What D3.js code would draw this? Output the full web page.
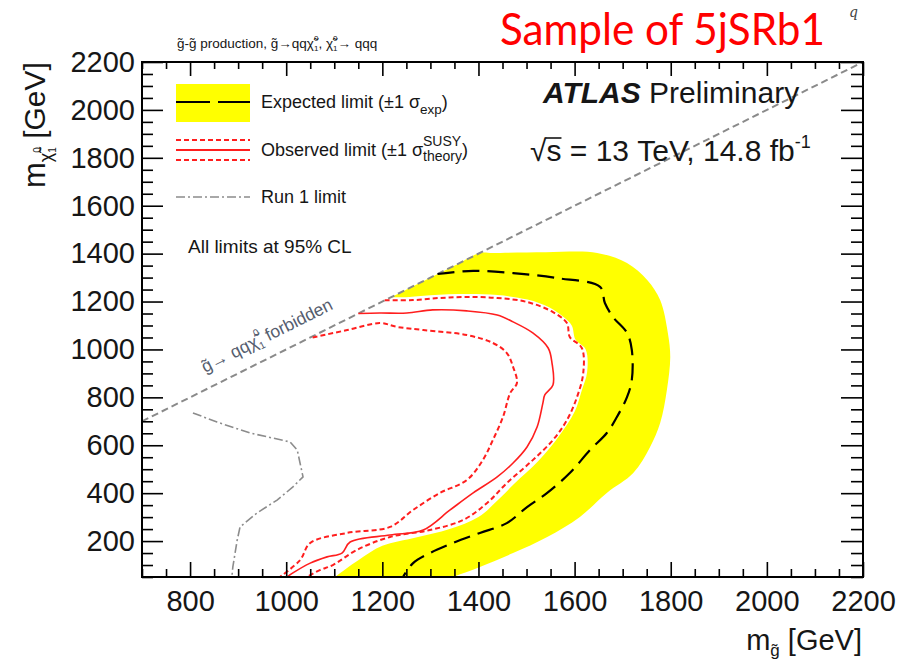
<!DOCTYPE html>
<html>
<head>
<meta charset="utf-8">
<script src="https://cdn.jsdelivr.net/npm/d3@7"></script>
<style>
  html, body { margin: 0; padding: 0; background: #fff; }
  svg { display: block; font-family: "Liberation Sans", Arial, Helvetica, sans-serif; }
</style>
</head>
<body>
<svg id="chart" width="899" height="669"></svg>
<script>
// ---- axis ranges and ticks (GeV) ----
const xDomain = [700, 2200];
const yDomain = [50, 2200];
const xMajorTicks = [800, 1000, 1200, 1400, 1600, 1800, 2000, 2200];
const yMajorTicks = [200, 400, 600, 800, 1000, 1200, 1400, 1600, 1800, 2000, 2200];
const minorStep = 50;

// ---- exclusion contours: [m_gluino, m_neutralino] in GeV ----
const expectedLimit = [
  [1315,1315],[1389,1328],[1472,1319],[1563,1298],[1653,1261],[1663,1194],[1680,1135],
  [1709,1069],[1719,998],[1719,872],[1709,801],[1688,718],[1667,651],[1632,580],
  [1590,484],[1543,401],[1501,342],[1459,275],[1403,234],[1347,192],[1299,150],
  [1264,108],[1243,50]
];
// +/-1 sigma_exp band: outer edge then inner edge
const expectedBandOuter = [
  [1212,1212],[1260,1260],[1310,1310],[1360,1360],[1403,1403],[1430,1403],[1540,1406],
  [1647,1403],[1709,1361],[1751,1290],[1778,1206],[1794,1069],[1799,968],[1792,831],
  [1778,693],[1757,593],[1722,484],[1667,401],[1611,301],[1543,217],[1472,150],
  [1403,92],[1347,50],[1300,10]
];
const expectedBandInner = [
  [1080,10],[1102,50],[1150,120],[1200,180],[1270,215],[1340,250],[1400,300],[1440,370],
  [1475,440],[1525,535],[1568,640],[1600,740],[1615,830],[1626,905],[1623,1000],
  [1602,1040],[1594,1100],[1577,1135],[1547,1176],[1502,1208],[1440,1227],
  [1376,1231],[1300,1226],[1250,1218],[1216,1216]
];
const observedLimit = [
  [1150,1150],[1195,1152],[1251,1152],[1305,1165],[1376,1161],[1439,1144],[1472,1115],
  [1513,1069],[1545,1006],[1553,943],[1555,852],[1538,810],[1534,776],[1522,676],
  [1501,593],[1472,526],[1439,468],[1389,401],[1341,330],[1285,246],[1216,225],
  [1133,196],[1116,150],[1085,134],[1050,108],[1014,67],[1002,50]
];
const observedPlusTheory = [
  [1205,1205],[1264,1206],[1320,1215],[1376,1219],[1439,1215],[1501,1198],[1555,1156],
  [1584,1110],[1590,1052],[1615,1006],[1618,902],[1605,801],[1584,705],[1555,622],
  [1513,538],[1459,442],[1418,359],[1368,288],[1299,246],[1216,217],[1147,163],
  [1097,100],[1070,79],[1043,50]
];
const observedMinusTheory = [
  [1055,1050],[1127,1081],[1195,1110],[1231,1094],[1285,1081],[1376,1060],[1430,1027],
  [1459,985],[1472,927],[1480,860],[1466,818],[1451,718],[1430,622],[1409,538],
  [1376,455],[1320,401],[1264,330],[1216,259],[1127,234],[1050,192],[1029,121],[987,50]
];
const run1Limit = [
  [806,735],[856,697],[925,651],[1008,614],[1023,580],[1035,468],[1014,426],
  [981,371],[939,317],[904,259],[898,204],[889,92],[887,50]
];
// kinematic boundary m_neutralino = m_gluino
const kinematicEdge = [[700,700],[2200,2200]];

// ---- layout ----
const plot = { left: 142, right: 863, top: 62, bottom: 577 };
const txt = "#161616";
const svg = d3.select("#chart");

const x = d3.scaleLinear().domain(xDomain).range([plot.left, plot.right]);
const y = d3.scaleLinear().domain(yDomain).range([plot.bottom, plot.top]);
const line = d3.line().x(d => x(d[0])).y(d => y(d[1]));
const smooth = d3.line().x(d => x(d[0])).y(d => y(d[1])).curve(d3.curveCatmullRom.alpha(0.5));
const bandShape = d3.line().x(d => x(d[0])).y(d => y(d[1])).curve(d3.curveCatmullRomClosed.alpha(0.5));

svg.append("defs").append("clipPath").attr("id", "plotClip")
  .append("rect")
  .attr("x", plot.left).attr("y", plot.top)
  .attr("width", plot.right - plot.left).attr("height", plot.bottom - plot.top);

const area = svg.append("g").attr("clip-path", "url(#plotClip)");

// expected band
area.append("path")
  .attr("d", bandShape(expectedBandOuter.concat(expectedBandInner)))
  .attr("fill", "#ffff00").attr("stroke", "none");

// kinematic boundary
area.append("path").attr("d", line(kinematicEdge))
  .attr("fill", "none").attr("stroke", "#8a8a8a").attr("stroke-width", 2)
  .attr("stroke-dasharray", "7,4");

// run 1
area.append("path").attr("d", line(run1Limit))
  .attr("fill", "none").attr("stroke", "#8c8c8c").attr("stroke-width", 1.6)
  .attr("stroke-dasharray", "9,3,2,3");

// observed +/- theory
[observedPlusTheory, observedMinusTheory].forEach(c => {
  area.append("path").attr("d", smooth(c))
    .attr("fill", "none").attr("stroke", "#ff1e1e").attr("stroke-width", 2)
    .attr("stroke-dasharray", "5,3");
});
area.append("path").attr("d", smooth(observedLimit))
  .attr("fill", "none").attr("stroke", "#ff1e1e").attr("stroke-width", 1.6);

// expected
area.append("path").attr("d", smooth(expectedLimit))
  .attr("fill", "none").attr("stroke", "#000").attr("stroke-width", 2.2)
  .attr("stroke-dasharray", "17,8");

// ---- axes ----
const minorX = d3.range(xDomain[0], xDomain[1] + 1, minorStep).filter(v => !xMajorTicks.includes(v));
const minorY = d3.range(yDomain[0], yDomain[1] + 1, minorStep).filter(v => !yMajorTicks.includes(v));

function styleAxis(g) {
  g.select(".domain").remove();
  g.selectAll(".tick line").attr("stroke", "#000").attr("stroke-width", 1.6);
  g.attr("font-family", null).attr("font-size", null);
  g.selectAll("text").attr("fill", txt).attr("font-size", 29);
}

svg.append("g").attr("transform", `translate(0,${plot.bottom})`)
  .call(d3.axisBottom(x).tickValues(xMajorTicks).tickSize(-15).tickPadding(13).tickFormat(d3.format("d")))
  .call(styleAxis);
svg.append("g").attr("transform", `translate(0,${plot.bottom})`)
  .call(d3.axisBottom(x).tickValues(minorX).tickSize(-8).tickFormat(""))
  .call(styleAxis);
svg.append("g").attr("transform", `translate(0,${plot.top})`)
  .call(d3.axisTop(x).tickValues(xMajorTicks).tickSize(-14).tickFormat(""))
  .call(styleAxis);
svg.append("g").attr("transform", `translate(0,${plot.top})`)
  .call(d3.axisTop(x).tickValues(minorX).tickSize(-7).tickFormat(""))
  .call(styleAxis);

svg.append("g").attr("transform", `translate(${plot.left},0)`)
  .call(d3.axisLeft(y).tickValues(yMajorTicks).tickSize(-21).tickPadding(7).tickFormat(d3.format("d")))
  .call(styleAxis);
svg.append("g").attr("transform", `translate(${plot.left},0)`)
  .call(d3.axisLeft(y).tickValues(minorY).tickSize(-11).tickFormat(""))
  .call(styleAxis);
svg.append("g").attr("transform", `translate(${plot.right},0)`)
  .call(d3.axisRight(y).tickValues(yMajorTicks).tickSize(-22).tickFormat(""))
  .call(styleAxis);
svg.append("g").attr("transform", `translate(${plot.right},0)`)
  .call(d3.axisRight(y).tickValues(minorY).tickSize(-12).tickFormat(""))
  .call(styleAxis);

svg.append("rect")
  .attr("x", plot.left).attr("y", plot.top)
  .attr("width", plot.right - plot.left).attr("height", plot.bottom - plot.top)
  .attr("fill", "none").attr("stroke", "#000").attr("stroke-width", 2);

// ---- rich text helper: runs of text with sub/superscripts laid out left to right ----
function richText(parent, x0, y0, parts, base) {
  const g = parent.append("g");
  let cx = x0;
  const put = (p, xx) => {
    const t = g.append("text")
      .attr("x", xx).attr("y", y0 + (p.dy || 0))
      .attr("font-size", p.fs || base.fs)
      .attr("fill", p.fill || base.fill || txt)
      .text(p.t);
    if (p.weight || base.weight) t.attr("font-weight", p.weight || base.weight);
    if (p.style || base.style) t.attr("font-style", p.style || base.style);
    if (p.family || base.family) t.attr("font-family", p.family || base.family);
    return t.node().getComputedTextLength();
  };
  for (const p of parts) {
    if (p.stack) {
      let w = 0;
      p.stack.forEach(s => { w = Math.max(w, put(s, cx)); });
      cx += w;
    } else {
      cx += put(p, cx);
    }
  }
  return { g, width: cx - x0 };
}

const NB = "\u00A0";
const chi = "\u03C7\u0303";
const gl = "g\u0303";

// process line above the frame
richText(svg, 177, 48, [
  { t: `${gl}-${gl} production, ${gl}\u2192qq${chi}` },
  { stack: [{ t: "0", fs: 8, dy: -7 }, { t: "1", fs: 8, dy: 3 }] },
  { t: `, ${chi}` },
  { stack: [{ t: "0", fs: 8, dy: -7 }, { t: "1", fs: 8, dy: 3 }] },
  { t: `\u2192${NB}qqq` }
], { fs: 13.5 });

// red sample tag
svg.append("text").attr("x", 500).attr("y", 45)
  .attr("font-family", "Lato, 'Open Sans', sans-serif").attr("font-size", 44)
  .attr("fill", "#ff0000")
  .attr("textLength", 325).attr("lengthAdjust", "spacingAndGlyphs")
  .text("Sample of 5jSRb1");

svg.append("text").attr("x", 849).attr("y", 17)
  .attr("font-family", "'DejaVu Serif', serif").attr("font-style", "italic")
  .attr("font-size", 14).attr("fill", "#444").text("q");

// ATLAS label
richText(svg, 543, 103, [
  { t: "ATLAS", weight: "bold", style: "italic" },
  { t: NB + "Preliminary" }
], { fs: 30 });

const sq = richText(svg, 530, 161, [
  { t: "\u221A" },
  { t: "s" },
  { t: `${NB}=${NB}13${NB}TeV,${NB}14.8${NB}fb` },
  { t: "-1", fs: 18, dy: -13 }
], { fs: 30 });
{
  const nodes = sq.g.selectAll("text").nodes();
  const sx = +nodes[1].getAttribute("x");
  const sw = nodes[1].getComputedTextLength();
  sq.g.append("line").attr("x1", sx - 1).attr("x2", sx + sw)
    .attr("y1", 161 - 23).attr("y2", 161 - 23)
    .attr("stroke", txt).attr("stroke-width", 1.6);
}

// ---- legend ----
const lg = { x0: 176, x1: 250, tx: 261 };
svg.append("rect").attr("x", lg.x0).attr("y", 84).attr("width", lg.x1 - lg.x0).attr("height", 38)
  .attr("fill", "#ffff00");
svg.append("line").attr("x1", lg.x0).attr("x2", lg.x1).attr("y1", 102).attr("y2", 102)
  .attr("stroke", "#000").attr("stroke-width", 2.2).attr("stroke-dasharray", "34,8");
richText(svg, lg.tx, 108, [
  { t: `Expected limit (\u00B11${NB}\u03C3` },
  { t: "exp", fs: 13.5, dy: 6 },
  { t: ")" }
], { fs: 18 });

[140, 160].forEach(yy => svg.append("line").attr("x1", lg.x0).attr("x2", lg.x1)
  .attr("y1", yy).attr("y2", yy).attr("stroke", "#ff1e1e").attr("stroke-width", 2)
  .attr("stroke-dasharray", "5,3"));
svg.append("line").attr("x1", lg.x0).attr("x2", lg.x1).attr("y1", 150).attr("y2", 150)
  .attr("stroke", "#ff1e1e").attr("stroke-width", 1.8);
richText(svg, lg.tx, 156, [
  { t: `Observed limit (\u00B11${NB}\u03C3` },
  { stack: [{ t: "SUSY", fs: 14, dy: -10 }, { t: "theory", fs: 14, dy: 5 }] },
  { t: ")" }
], { fs: 18 });

svg.append("line").attr("x1", lg.x0).attr("x2", lg.x1).attr("y1", 197).attr("y2", 197)
  .attr("stroke", "#8c8c8c").attr("stroke-width", 1.6).attr("stroke-dasharray", "9,3,2,3");
richText(svg, lg.tx, 203, [{ t: "Run 1 limit" }], { fs: 18 });

richText(svg, 188, 253, [{ t: "All limits at 95% CL" }], { fs: 19 });

// label along the kinematic boundary
{
  const ang = Math.atan2(y(2200) - y(700), x(2200) - x(700)) * 180 / Math.PI;
  const g = svg.append("g").attr("transform", `translate(205,373) rotate(${ang})`);
  richText(g, 0, 0, [
    { t: `${gl}\u2192${NB}qq${chi}` },
    { stack: [{ t: "0", fs: 10, dy: -10 }, { t: "1", fs: 10, dy: 4 }] },
    { t: NB + "forbidden" }
  ], { fs: 17.5, fill: "#555d6e" });
}

// ---- axis titles ----
{
  const g = svg.append("g").attr("transform", "translate(45,188) rotate(-90)");
  richText(g, 0, 0, [
    { t: "m", fs: 31 },
    { t: chi, fs: 18, dy: 7 },
    { stack: [{ t: "0", fs: 10, dy: -4 }, { t: "1", fs: 10, dy: 11 }] },
    { t: NB + "[GeV]" }
  ], { fs: 30 });
}
{
  const r = richText(svg, 0, 650, [
    { t: "m" },
    { t: gl, fs: 17, dy: 6 },
    { t: NB + "[GeV]" }
  ], { fs: 29 });
  r.g.attr("transform", `translate(${862 - r.width},0)`);
}
</script>
</body>
</html>
